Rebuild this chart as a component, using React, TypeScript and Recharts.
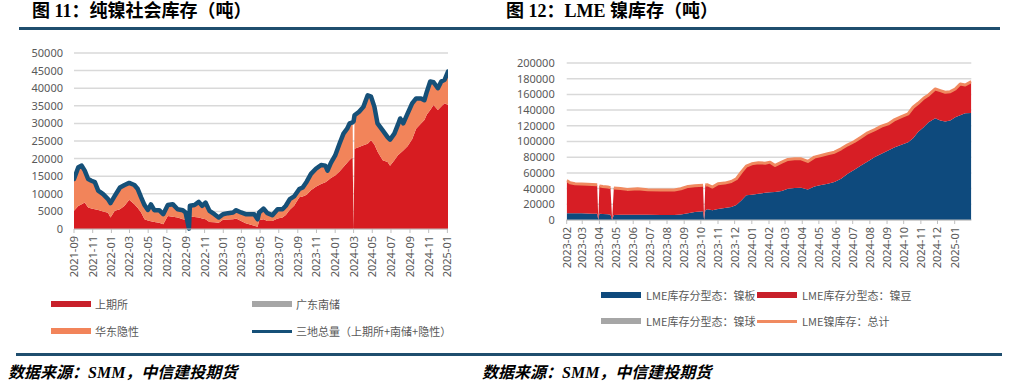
import React from 'react';
import { ComposedChart, Area, Line, XAxis, YAxis, CartesianGrid } from 'recharts';

// ---------- Left chart: 纯镍社会库存 ----------
const leftDates = [
  '2021-09-01','2021-09-15','2021-09-26','2021-10-06','2021-10-17','2021-10-28','2021-11-08','2021-11-19','2021-12-05','2021-12-21',
  '2021-12-29','2022-01-12','2022-01-29','2022-02-13','2022-02-28','2022-03-17','2022-03-28','2022-04-08','2022-04-19','2022-04-30',
  '2022-05-10','2022-05-21','2022-06-06','2022-06-19','2022-07-04','2022-07-20','2022-08-05','2022-08-22','2022-08-31','2022-09-11',
  '2022-09-14','2022-09-29','2022-10-13','2022-10-24','2022-11-04','2022-11-17','2022-12-03','2022-12-17','2022-12-31','2023-01-16',
  '2023-02-02','2023-02-12','2023-02-28','2023-03-15','2023-04-01','2023-04-12','2023-04-23','2023-04-28','2023-05-12','2023-05-25',
  '2023-06-10','2023-06-27','2023-07-13','2023-07-24','2023-08-06','2023-08-20','2023-09-06','2023-09-17','2023-09-30','2023-10-14',
  '2023-10-30','2023-11-16','2023-11-30','2023-12-07','2023-12-18','2024-01-01','2024-01-15','2024-01-28','2024-02-09','2024-02-17',
  '2024-02-27','2024-03-01','2024-03-04','2024-03-19','2024-04-02','2024-04-16','2024-04-27','2024-05-08','2024-05-18','2024-06-04',
  '2024-06-20','2024-06-28','2024-07-12','2024-07-23','2024-07-31','2024-08-10','2024-08-24','2024-09-08','2024-09-21','2024-10-07',
  '2024-10-18','2024-10-26','2024-11-06','2024-11-17','2024-12-01','2024-12-12','2024-12-23','2025-01-03',
];
const leftShfe = [
  5150,6500,7050,7500,6100,5800,5600,5400,5000,4600,
  3250,5150,5600,6600,8300,7050,6000,4700,2750,2400,
  2200,2000,1800,1350,3700,3500,3250,2750,2600,100,
  3550,3400,3250,3000,2750,2000,1900,1800,2600,2700,
  2750,3000,2300,1600,1200,900,650,2500,2750,2300,
  2300,3000,3300,4000,5500,6600,9000,9200,9700,11000,
  12000,12800,13300,13700,14500,15200,16300,17600,18800,19600,
  20400,0,22800,23300,23800,24200,25200,24000,22000,19500,
  19000,18000,19500,20900,21500,22300,23500,25500,28500,30000,
  31000,32500,33800,35200,33800,34800,35700,35200,
];
const leftEast = [
  9050,11050,10950,9100,8100,7900,7700,5500,4900,3900,
  4100,4250,6200,5900,4800,5450,5350,4300,4050,3000,
  4800,3350,3550,2850,3100,3550,2350,2600,2100,0,
  3050,3400,4450,3600,4750,3150,2300,1450,1600,1800,
  1950,2350,2400,2600,3000,3300,2100,2200,3050,2200,
  1600,2600,2300,2600,3000,2650,2350,2600,3750,4650,
  5100,5400,4700,2900,4300,5700,7900,9500,9700,10400,
  9900,0,9500,10000,10900,13800,12400,10700,8000,8500,
  7100,7400,7600,8600,9900,7700,9300,10200,8600,7100,
  5600,6500,8100,6500,6200,7100,6700,9500,
];
const leftTotal = [
  14200,17550,18000,16600,14200,13700,13300,10900,9900,8500,
  7350,9400,11800,12500,13100,12500,11350,9000,6800,5400,
  7000,5350,5350,4200,6800,7050,5600,5350,4700,100,
  6600,6800,7700,6600,7500,5150,4200,3250,4200,4500,
  4700,5350,4700,4200,4200,4200,2750,4700,5800,4500,
  3900,5600,5600,6600,8500,9250,11350,11800,13450,15650,
  17100,18200,18000,16600,18800,20900,24200,27100,28500,30000,
  30300,30600,32300,33300,34700,38000,37600,34700,30000,28000,
  26100,25400,27100,29500,31400,30000,32800,35700,37100,37100,
  36600,39000,41900,41700,40000,41900,42400,44700,
];
const leftYTicks = [0, 5000, 10000, 15000, 20000, 25000, 30000, 35000, 40000, 45000, 50000];
const leftXTicks = [
  '2021-09','2021-11','2022-01','2022-03','2022-05','2022-07','2022-09','2022-11','2023-01','2023-03','2023-05',
  '2023-07','2023-09','2023-11','2024-01','2024-03','2024-05','2024-07','2024-09','2024-11','2025-01',
];
const leftDomain = ['2021-09-01', '2025-01-03'];

// ---------- Right chart: LME 镍库存 ----------
const rightDates = [
  '2023-02-01','2023-02-07','2023-02-16','2023-02-28','2023-03-10','2023-03-19','2023-03-28','2023-03-30','2023-04-01','2023-04-07',
  '2023-04-16','2023-04-21','2023-04-24','2023-04-27','2023-05-09','2023-05-21','2023-06-09','2023-06-27','2023-07-21','2023-08-14',
  '2023-08-26','2023-09-08','2023-09-20','2023-10-05','2023-10-07','2023-10-09','2023-10-13','2023-10-22','2023-11-01','2023-11-13',
  '2023-11-25','2023-12-04','2023-12-13','2023-12-22','2024-01-01','2024-01-13','2024-01-25','2024-02-03','2024-02-12','2024-02-24',
  '2024-03-06','2024-03-18','2024-03-30','2024-04-11','2024-04-23','2024-05-05','2024-05-17','2024-05-29','2024-06-10','2024-06-22',
  '2024-07-04','2024-07-16','2024-07-28','2024-08-10','2024-08-22','2024-09-03','2024-09-15','2024-09-27','2024-10-09','2024-10-18',
  '2024-10-27','2024-11-06','2024-11-15','2024-11-27','2024-12-06','2024-12-15','2024-12-24','2025-01-02','2025-01-11','2025-01-20',
  '2025-01-31',
];
const rightPlate = [
  8500,8500,8500,8500,8300,8100,8100,0,8000,7600,
  7200,6800,0,6400,6600,6800,6800,6800,6400,6400,
  7000,8500,10200,11000,0,12500,13600,12300,14000,15300,
  16500,19000,25000,31400,32200,33500,34700,35300,35600,37000,
  39800,40700,41100,39000,42800,44500,46200,48300,52500,58900,
  64000,69500,74600,80100,84300,88600,92800,95800,99100,104000,
  112000,118000,124600,129600,126700,125400,126700,130900,133500,136000,
  136400,
];
const rightBriquette = [
  41900,39000,37700,37300,37300,37200,36900,0,35500,35000,
  34800,34400,0,34400,33400,32200,33000,31800,31700,31700,
  32800,34300,33300,33300,0,32000,31300,29700,32200,31700,
  32600,33500,36000,37200,39400,39400,37700,38400,33900,36700,
  37300,37300,36900,35600,37300,37700,38100,38100,38200,36900,
  36000,36000,36400,35100,35200,33800,35200,36000,36100,39600,
  36700,37100,34700,37300,38100,37300,36800,36000,39800,36000,
  39900,
];
const rightTotal: (number | null)[] = [
  50400,47500,46200,45800,45600,45300,45000,null,43500,42600,
  42000,41200,null,40800,40000,39000,39800,38600,38100,38100,
  39800,42800,43500,44300,null,44500,44900,42000,46200,47000,
  49100,52500,61000,68600,71600,72900,72400,73700,69500,73700,
  77100,78000,78000,74600,80100,82200,84300,86400,90700,95800,
  100000,105500,111000,115200,119500,122400,128000,131800,135200,143600,
  148700,155100,159300,166900,164800,162700,163500,166900,173300,172000,
  176300,
];
const rightYTicks = [0, 20000, 40000, 60000, 80000, 100000, 120000, 140000, 160000, 180000, 200000];
const rightXTicks = [
  '2023-02','2023-03','2023-04','2023-05','2023-06','2023-07','2023-08','2023-09','2023-10','2023-11','2023-12',
  '2024-01','2024-02','2024-03','2024-04','2024-05','2024-06','2024-07','2024-08','2024-09','2024-10','2024-11',
  '2024-12','2025-01',
];
const rightDomain = ['2023-02-01', '2025-01-31'];

// ---------- helpers ----------
const toT = (d: string) => Date.parse(d);
const fmtMonth = (t: number) => {
  const d = new Date(t);
  const m = d.getUTCMonth() + 1;
  return `${d.getUTCFullYear()}-${m < 10 ? '0' + m : m}`;
};

const leftData = leftDates.map((d, i) => ({
  t: toT(d), shfe: leftShfe[i], east: leftEast[i], total: leftTotal[i],
}));
const rightData = rightDates.map((d, i) => ({
  t: toT(d), plate: rightPlate[i], briq: rightBriquette[i], total: rightTotal[i],
}));

const TICK_FONT = '"Noto Sans", "Noto Sans CJK SC", sans-serif';
const TXT = '#595959';

const RotTick = (props: any) => {
  const { x, y, payload } = props;
  return (
    <text
      x={x}
      y={y}
      transform={`rotate(-90, ${x}, ${y})`}
      textAnchor="end"
      dy={4}
      fill={TXT}
      fontSize={11}
      fontFamily={TICK_FONT}
    >
      {fmtMonth(payload.value)}
    </text>
  );
};

const Swatch = ({ left, top, color, line }: { left: number; top: number; color: string; line?: boolean }) => (
  <div
    style={{
      position: 'absolute',
      left,
      top: line ? top - 1.5 : top - 3,
      width: 40,
      height: line ? 3 : 6,
      background: color,
    }}
  />
);

const LegText = ({ left, top, children }: { left: number; top: number; children: React.ReactNode }) => (
  <div
    style={{
      position: 'absolute',
      left,
      top: top - 8,
      height: 16,
      lineHeight: '16px',
      fontSize: 11,
      color: TXT,
      fontFamily: '"Noto Sans CJK SC", "Noto Sans", sans-serif',
      whiteSpace: 'nowrap',
    }}
  >
    {children}
  </div>
);

const TITLE_FONT = '"Liberation Serif", "Noto Sans CJK SC", serif';
const FOOT_FONT = '"Liberation Serif", "Noto Sans CJK SC", serif';

export default function App() {
  return (
    <div
      style={{
        position: 'absolute',
        left: 0,
        top: 0,
        width: 1009,
        height: 386,
        background: '#ffffff',
        overflow: 'hidden',
      }}
    >
      {/* titles */}
      <div style={{ position: 'absolute', left: 32, top: 0, fontSize: 18, fontWeight: 'bold', fontFamily: TITLE_FONT, lineHeight: '22px', color: '#000' }}>
        图 11：纯镍社会库存（吨）
      </div>
      <div style={{ position: 'absolute', left: 506, top: 0, fontSize: 18, fontWeight: 'bold', fontFamily: TITLE_FONT, lineHeight: '22px', color: '#000' }}>
        图 12：LME 镍库存（吨）
      </div>
      <div style={{ position: 'absolute', left: 19, top: 27, width: 981, height: 3, background: '#1f4e6e' }} />

      {/* left chart */}
      <div style={{ position: 'absolute', left: 0, top: 0 }}>
        <ComposedChart width={470} height={285} data={leftData} margin={{ top: 53, right: 22, left: 14, bottom: 0 }}>
          <CartesianGrid vertical={false} stroke="#d9d9d9" strokeWidth={1.5} />
          <XAxis
            dataKey="t"
            type="number"
            domain={[toT(leftDomain[0]), toT(leftDomain[1])]}
            allowDataOverflow
            ticks={leftXTicks.map((m) => toT(m + '-01'))}
            tick={<RotTick />}
            height={56}
            interval={0}
            tickSize={4}
            tickMargin={3}
            stroke="#bfbfbf"
            axisLine={{ stroke: '#bfbfbf' }}
            tickLine={{ stroke: '#bfbfbf' }}
          />
          <YAxis
            domain={[0, 50000]}
            ticks={leftYTicks}
            width={60}
            axisLine={false}
            tickLine={false}
            tickSize={0}
            tickMargin={11}
            interval={0}
            tick={{ fill: TXT, fontSize: 11, fontFamily: TICK_FONT }}
          />
          <Area type="linear" dataKey="shfe" stackId="s" stroke="none" fill="#d71c21" fillOpacity={1} isAnimationActive={false} dot={false} activeDot={false} />
          <Area type="linear" dataKey="east" stackId="s" stroke="none" fill="#f2845a" fillOpacity={1} isAnimationActive={false} dot={false} activeDot={false} />
          <Line type="linear" dataKey="total" stroke="#165078" strokeWidth={4.5} dot={false} activeDot={false} isAnimationActive={false} strokeLinejoin="round" strokeLinecap="round" />
        </ComposedChart>
      </div>

      {/* right chart */}
      <div style={{ position: 'absolute', left: 480, top: 0 }}>
        <ComposedChart width={520} height={276} data={rightData} margin={{ top: 63, right: 28.7, left: 26.7, bottom: 0 }}>
          <CartesianGrid vertical={false} stroke="#d9d9d9" strokeWidth={1.5} />
          <XAxis
            dataKey="t"
            type="number"
            domain={[toT(rightDomain[0]), toT(rightDomain[1])]}
            allowDataOverflow
            ticks={rightXTicks.map((m) => toT(m + '-01'))}
            tick={<RotTick />}
            height={56}
            interval={0}
            tickSize={4}
            tickMargin={3}
            axisLine={{ stroke: '#bfbfbf' }}
            tickLine={{ stroke: '#bfbfbf' }}
          />
          <YAxis
            domain={[0, 200000]}
            ticks={rightYTicks}
            width={60}
            axisLine={false}
            tickLine={false}
            tickSize={0}
            tickMargin={12}
            interval={0}
            tick={{ fill: TXT, fontSize: 11, fontFamily: TICK_FONT }}
          />
          <Area type="linear" dataKey="plate" stackId="r" stroke="none" fill="#0e4a7d" fillOpacity={1} isAnimationActive={false} dot={false} activeDot={false} />
          <Area type="linear" dataKey="briq" stackId="r" stroke="none" fill="#d71e25" fillOpacity={1} isAnimationActive={false} dot={false} activeDot={false} />
          <Line type="linear" dataKey="total" stroke="#f08a60" strokeWidth={3} dot={false} activeDot={false} connectNulls={false} isAnimationActive={false} strokeLinejoin="round" />
        </ComposedChart>
      </div>

      {/* left legend */}
      <Swatch left={51} top={304} color="#c8202a" />
      <LegText left={95} top={304}>上期所</LegText>
      <Swatch left={252} top={304} color="#a6a6a6" />
      <LegText left={296} top={304}>广东南储</LegText>
      <Swatch left={51} top={331} color="#f2845a" />
      <LegText left={95} top={331}>华东隐性</LegText>
      <Swatch left={252} top={331} color="#165078" line />
      <LegText left={296} top={331}>三地总量（上期所+南储+隐性）</LegText>

      {/* right legend */}
      <Swatch left={601} top={295} color="#0e4a7d" />
      <LegText left={646} top={295}>LME库存分型态：镍板</LegText>
      <Swatch left={757} top={295} color="#c8202a" />
      <LegText left={802} top={295}>LME库存分型态：镍豆</LegText>
      <Swatch left={601} top={321} color="#a6a6a6" />
      <LegText left={646} top={321}>LME库存分型态：镍球</LegText>
      <Swatch left={757} top={321} color="#f08a60" line />
      <LegText left={802} top={321}>LME镍库存：总计</LegText>

      {/* bottom rule and sources */}
      <div style={{ position: 'absolute', left: 16, top: 353, width: 986, height: 3, background: '#1f4e6e' }} />
      <div style={{ position: 'absolute', left: 8, top: 362, fontSize: 16, fontWeight: 'bold', fontStyle: 'italic', fontFamily: FOOT_FONT, lineHeight: '22px', color: '#000' }}>
        数据来源：SMM，中信建投期货
      </div>
      <div style={{ position: 'absolute', left: 482, top: 362, fontSize: 16, fontWeight: 'bold', fontStyle: 'italic', fontFamily: FOOT_FONT, lineHeight: '22px', color: '#000' }}>
        数据来源：SMM，中信建投期货
      </div>
    </div>
  );
}
